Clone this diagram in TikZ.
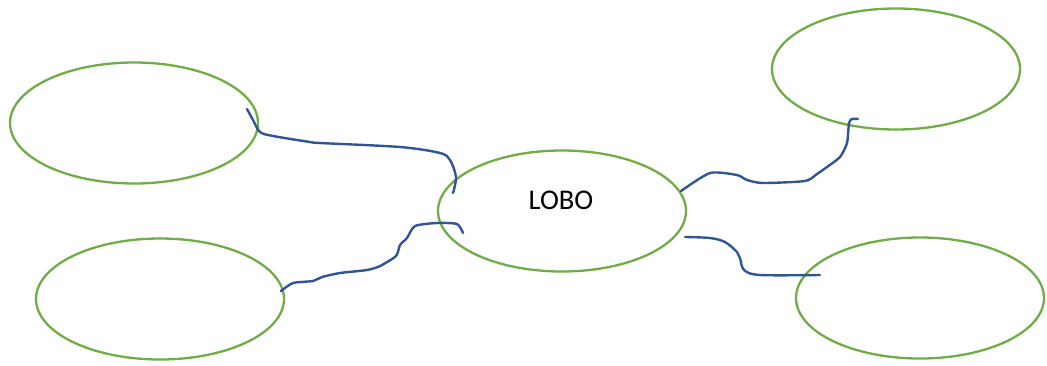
\documentclass[tikz,border=0pt]{standalone}
\usepackage{fontspec}
\setmainfont{Carlito}
\usetikzlibrary{shapes.geometric}
\definecolor{ogreen}{HTML}{70AD47}
\definecolor{cblue}{HTML}{2F5597}
\begin{document}
\begin{tikzpicture}[x=1pt,y=-1pt,
  bubble/.style={ellipse, draw=ogreen, line width=2.3pt, minimum width=248pt, minimum height=121pt, inner sep=0pt},
  conn/.style={draw=cblue, line width=2.4pt, line cap=round, line join=round}]
\useasboundingbox (0,0) rectangle (1047,365);
\node[bubble] (tl) at (134,123) {};
\node[bubble] (bl) at (160,299) {};
\node[bubble] (c) at (562,211) {};
\node[font=\fontsize{28.5}{32}\selectfont] (lbl) at (561,200) {LOBO};
\node[bubble] (tr) at (896,69) {};
\node[bubble] (br) at (920,298) {};
% connector ends
\coordinate (a1) at (247,109);
\coordinate (a2) at (453,193);
\coordinate (b1) at (281,291);
\coordinate (b2) at (463,233);
\coordinate (d1) at (681,191);
\coordinate (d2) at (858,119);
\coordinate (e1) at (685,237);
\coordinate (e2) at (820,275);
\draw[conn] plot[smooth, tension=0.5] coordinates {(a1) (253,120) (260,132) (273,136) (310,142) (320,143) (400,147) (440,153) (450,160) (456,177) (a2)};
\draw[conn] plot[smooth, tension=0.4] coordinates {(b1) (293,283) (313,281) (322,277) (340,273) (367,270) (380,266) (396,256) (400,245) (407,238) (415,226) (437,223) (457,224) (b2)};
\draw[conn] plot[smooth, tension=0.4] coordinates {(d1) (710,173) (737,175) (747,180) (763,183) (805,181) (817,174) (827,167) (840,157) (847,143) (849,123) (852,119) (d2)};
\draw[conn] plot[smooth, tension=0.5] coordinates {(e1) (710,238) (725,242) (737,252) (740,258) (744,270) (760,275) (e2)};
\end{tikzpicture}
\end{document}
